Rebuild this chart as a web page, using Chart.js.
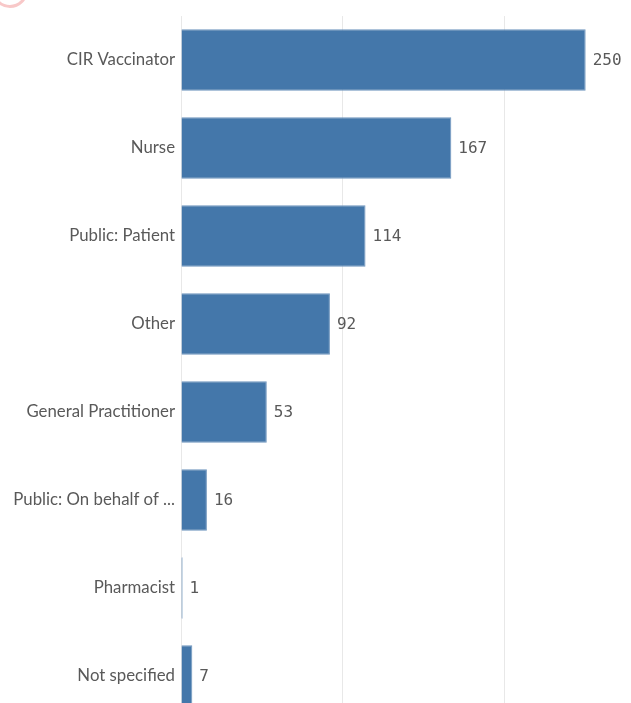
<!DOCTYPE html>
<html>
<head>
<meta charset="utf-8">
<script src="https://cdn.jsdelivr.net/npm/chart.js"></script>
<style>
  html, body { margin: 0; padding: 0; background: #fff; overflow: hidden; }
  #wrap { position: relative; width: 631px; height: 736px; }
  /* faint pink mark in the top-left corner of the screenshot */
  #mark { position: absolute; left: -8px; top: -28px; width: 30px; height: 30px;
          border: 3px solid #f8c8c8; border-radius: 50%; }
</style>
</head>
<body>
<div id="wrap">
  <canvas id="myChart" width="631" height="736"></canvas>
  <div id="mark"></div>
</div>

<script>
  // categories and counts
  const categories = ['CIR Vaccinator', 'Nurse', 'Public: Patient', 'Other',
    'General Practitioner', 'Public: On behalf of ...', 'Pharmacist', 'Not specified'];
  const counts = [250, 167, 114, 92, 53, 16, 1, 7];
  const gridValues = [0, 100, 200];

  // draws the number just right of each bar
  const valueLabels = {
    id: 'valueLabels',
    afterDatasetsDraw(chart) {
      const ctx = chart.ctx;
      const meta = chart.getDatasetMeta(0);
      ctx.save();
      ctx.font = '16px "DejaVu Sans Mono"';
      ctx.fillStyle = '#595959';
      ctx.textAlign = 'left';
      ctx.textBaseline = 'middle';
      meta.data.forEach((bar, i) => {
        ctx.fillText(String(counts[i]), bar.x + 7, bar.y + 1);
      });
      ctx.restore();
    }
  };

  new Chart(document.getElementById('myChart'), {
    type: 'bar',
    data: {
      labels: categories,
      datasets: [{
        data: counts,
        backgroundColor: '#4477aa',
        borderColor: '#6f95bd',
        borderWidth: 1,
        barPercentage: 0.7,
        categoryPercentage: 1
      }]
    },
    options: {
      indexAxis: 'y',
      responsive: false,
      animation: false,
      layout: { padding: { top: 16, right: 0, left: 0, bottom: 0 } },
      plugins: { legend: { display: false }, tooltip: { enabled: false } },
      scales: {
        x: {
          min: 0,
          max: 278,
          afterBuildTicks(scale) {
            scale.ticks = gridValues.map(v => ({ value: v }));
          },
          afterFit(scale) { scale.height = 0; },
          ticks: { display: false },
          border: { display: false },
          grid: { color: '#e8e8e8', lineWidth: 1, drawTicks: false }
        },
        y: {
          afterFit(scale) { scale.width = 181; },
          grid: { display: false, drawTicks: false },
          border: { display: false },
          ticks: {
            padding: 6,
            color: '#595959',
            font: { family: 'Lato', size: 16.8 }
          }
        }
      }
    },
    plugins: [valueLabels]
  });
</script>
</body>
</html>
